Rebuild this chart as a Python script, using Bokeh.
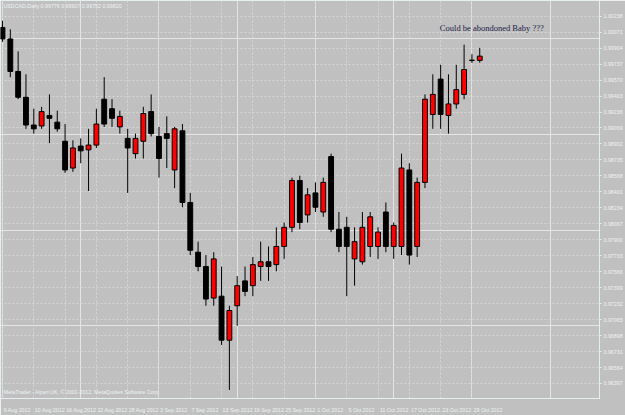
from bokeh.plotting import figure
from bokeh.models import (Range1d, FixedTicker, LinearAxis, PrintfTickFormatter,
                          Label, ColumnDataSource, Grid)
from bokeh.embed import file_html
from bokeh.resources import INLINE

# ---------------- data (USDCAD, Daily) ----------------
opens = [1.0012, 1.0000, 0.9966, 0.9939, 0.9910, 0.9909, 0.9920, 0.9913, 0.9893, 0.9865,
         0.9888, 0.9884, 0.9889, 0.9937, 0.9927, 0.9908, 0.9896, 0.9880, 0.9893, 0.9924,
         0.9898, 0.9901, 0.9863, 0.9904, 0.9829, 0.9777, 0.9762, 0.9729, 0.9731, 0.9685,
         0.9721, 0.9747, 0.9742, 0.9762, 0.9767, 0.9764, 0.9783, 0.9803, 0.9852, 0.9816,
         0.9839, 0.9819, 0.9877, 0.9801, 0.9803, 0.9770, 0.9767, 0.9783, 0.9783, 0.9819,
         0.9783, 0.9783, 0.9863, 0.9783, 0.9850, 0.9921, 0.9958, 0.9920, 0.9932, 0.9942,
         0.99775, 0.99776]
highs = [1.0019, 1.0010, 0.9987, 0.9963, 0.9927, 0.9929, 0.9942, 0.9925, 0.9911, 0.9894,
         0.9896, 0.9906, 0.9927, 0.9960, 0.9937, 0.9925, 0.9906, 0.9901, 0.9929, 0.9942,
         0.9908, 0.9919, 0.9908, 0.9911, 0.9839, 0.9788, 0.9774, 0.9777, 0.9762, 0.9721,
         0.9752, 0.9762, 0.9772, 0.9788, 0.9783, 0.9803, 0.9808, 0.9855, 0.9857, 0.9844,
         0.9850, 0.9855, 0.9880, 0.9819, 0.9814, 0.9803, 0.9819, 0.9819, 0.9803, 0.9829,
         0.9808, 0.9880, 0.9870, 0.9855, 0.9942, 0.9963, 0.9973, 0.9963, 0.9973, 0.9994,
         0.9984, 0.99907]
lows = [0.9997, 0.9960, 0.9937, 0.9906, 0.9901, 0.9906, 0.9891, 0.9903, 0.9860, 0.9861,
        0.9870, 0.9841, 0.9886, 0.9908, 0.9908, 0.9901, 0.9839, 0.9875, 0.9875, 0.9898,
        0.9855, 0.9865, 0.9844, 0.9824, 0.9774, 0.9757, 0.9721, 0.9721, 0.9680, 0.9633,
        0.9700, 0.9731, 0.9731, 0.9747, 0.9747, 0.9757, 0.9770, 0.9798, 0.9801, 0.9808,
        0.9819, 0.9814, 0.9798, 0.9777, 0.9731, 0.9742, 0.9764, 0.9772, 0.9770, 0.9777,
        0.9770, 0.9774, 0.9764, 0.9772, 0.9844, 0.9906, 0.9906, 0.9901, 0.9927, 0.9937,
        0.9975, 0.99752]
closes = [1.0000, 0.9966, 0.9939, 0.9910, 0.9906, 0.9924, 0.9917, 0.9906, 0.9863, 0.9886,
          0.9883, 0.9889, 0.9911, 0.9911, 0.9917, 0.9919, 0.9886, 0.9896, 0.9922, 0.9901,
          0.9875, 0.9896, 0.9906, 0.9829, 0.9779, 0.9762, 0.9728, 0.9770, 0.9685, 0.9716,
          0.9742, 0.9736, 0.9764, 0.9767, 0.9762, 0.9783, 0.9803, 0.9852, 0.9808, 0.9837,
          0.9824, 0.9850, 0.9801, 0.9783, 0.9783, 0.9788, 0.9803, 0.9814, 0.9798, 0.9783,
          0.9805, 0.9865, 0.9774, 0.9850, 0.9937, 0.9942, 0.9921, 0.9932, 0.9947, 0.9968,
          0.99778, 0.99820]

date_tick_bars = [0, 4, 8, 12, 16, 20, 24, 28, 32, 36, 40, 44, 48, 52, 56, 60]
date_labels = ["6 Aug 2012", "10 Aug 2012", "16 Aug 2012", "22 Aug 2012", "28 Aug 2012",
               "3 Sep 2012", "7 Sep 2012", "13 Sep 2012", "19 Sep 2012", "25 Sep 2012",
               "1 Oct 2012", "5 Oct 2012", "11 Oct 2012", "17 Oct 2012", "23 Oct 2012",
               "29 Oct 2012"]
price_ticks = [0.96230, 0.96397, 0.96564, 0.96731, 0.96898, 0.97065, 0.97232, 0.97399,
               0.97566, 0.97733, 0.97900, 0.98067, 0.98234, 0.98401, 0.98568, 0.98735,
               0.98902, 0.99069, 0.99236, 0.99403, 0.99570, 0.99737, 0.99904, 1.00071,
               1.00238]

header_text = "USDCAD,Daily  0.99776 0.99907 0.99752 0.99820"
footer_text = "MetaTrader - Alpari UK, \u00a9 2001-2012, MetaQuotes Software Corp."
note_text = "Could be abondoned Baby ???"
bid_text = "0.99820"
bid_price = 0.99820

# ---------------- layout ----------------
W, H = 625, 415
RIGHT_BORDER = 24
BOTTOM_BORDER = 11
FRAME_W = W - RIGHT_BORDER
FRAME_H = H - BOTTOM_BORDER
PX_PER_BAR = 7.85
X0_PX = 2.0
PRICE_PER_PX = 0.00010302
TOP_PRICE = 1.00402
SMALL = "5.3px"

BG = "#c0c0c0"
GRID = "#d6d6d6"
AXIS = "#e4f0f0"
TXT = "#eef4f4"

x_start = -X0_PX / PX_PER_BAR
p = figure(width=W, height=H, output_backend="svg", toolbar_location=None,
           x_range=Range1d(x_start, x_start + FRAME_W / PX_PER_BAR),
           y_range=Range1d(TOP_PRICE - FRAME_H * PRICE_PER_PX, TOP_PRICE),
           x_axis_location=None, y_axis_location=None,
           background_fill_color=BG, border_fill_color=BG,
           min_border_left=0, min_border_top=0,
           min_border_right=RIGHT_BORDER, min_border_bottom=BOTTOM_BORDER)
p.outline_line_color = AXIS
p.outline_line_width = 1

# grids
p.add_layout(Grid(dimension=0, ticker=FixedTicker(ticks=date_tick_bars),
                  grid_line_color=GRID, grid_line_dash="2 2", grid_line_width=1))
p.add_layout(Grid(dimension=1, ticker=FixedTicker(ticks=price_ticks),
                  grid_line_color=GRID, grid_line_dash="2 2", grid_line_width=1))

# price axis
yax = LinearAxis(ticker=FixedTicker(ticks=price_ticks),
                 formatter=PrintfTickFormatter(format="%.5f"),
                 axis_line_color=AXIS, major_tick_line_color=AXIS, major_tick_out=2,
                 major_tick_in=0, minor_tick_line_color=None,
                 major_label_text_font_size=SMALL, major_label_text_color=TXT,
                 major_label_text_font="Liberation Sans", major_label_standoff=2)
p.add_layout(yax, "right")

# time axis: labels start at their bar, like MetaTrader
char_px = 2.75
shifted = [b + (len(s) * char_px / 2 + 1) / PX_PER_BAR for b, s in zip(date_tick_bars, date_labels)]
overrides = {t: s for t, s in zip(shifted, date_labels)}
xax = LinearAxis(ticker=FixedTicker(ticks=shifted), major_label_overrides=overrides,
                 axis_line_color=AXIS, major_tick_line_color=None, minor_tick_line_color=None,
                 major_label_text_font_size=SMALL, major_label_text_color=TXT,
                 major_label_text_font="Liberation Sans", major_label_standoff=2)
p.add_layout(xax, "below")

# candles
idx = list(range(len(opens)))
bull = [c >= o for o, c in zip(opens, closes)]
wicks = ColumnDataSource(dict(x=idx, lo=lows, hi=highs))
p.segment(x0="x", y0="lo", x1="x", y1="hi", source=wicks, line_color="black", line_width=1)
up = ColumnDataSource(dict(x=[i for i in idx if bull[i]],
                           top=[closes[i] for i in idx if bull[i]],
                           bottom=[opens[i] for i in idx if bull[i]]))
dn = ColumnDataSource(dict(x=[i for i in idx if not bull[i]],
                           top=[opens[i] for i in idx if not bull[i]],
                           bottom=[closes[i] for i in idx if not bull[i]]))
p.vbar(x="x", top="top", bottom="bottom", width=0.62, source=up,
       fill_color="#ff0000", line_color="black", line_width=1)
p.vbar(x="x", top="top", bottom="bottom", width=0.62, source=dn,
       fill_color="black", line_color="black", line_width=1)

# texts
p.add_layout(Label(x=3, y=TOP_PRICE - 3 * PRICE_PER_PX, x_units="screen", text=header_text,
                   text_font="Liberation Sans", text_font_size=SMALL, text_color=TXT,
                   text_baseline="top"))
p.add_layout(Label(x=3, y=TOP_PRICE - 400 * PRICE_PER_PX, x_units="screen", text=footer_text,
                   text_font="Liberation Sans", text_font_size=SMALL, text_color=TXT,
                   text_baseline="bottom"))
p.add_layout(Label(x=55.9, y=1.00114, text=note_text, text_font="Liberation Serif",
                   text_font_size="8.5px", text_color="#202048", text_baseline="middle"))
p.add_layout(Label(x=FRAME_W + 1, y=bid_price, x_units="screen", text=bid_text,
                   text_font="Liberation Sans", text_font_size=SMALL, text_color="#8a9898",
                   text_baseline="middle", background_fill_color="#e6f4f4"))

open("out.html", "w").write(file_html(p, INLINE))
